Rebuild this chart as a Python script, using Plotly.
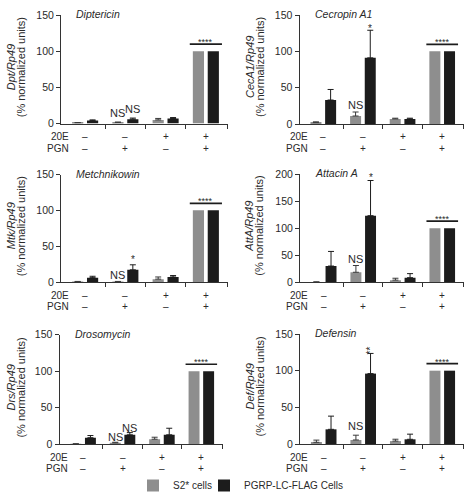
import plotly.graph_objects as go

W, H = 472, 493

# ---------------- data ----------------
genes = ["Diptericin", "Cecropin A1", "Metchnikowin", "Attacin A", "Drosomycin", "Defensin"]
ratio_labels = ["Dpt/Rp49", "CecA1/Rp49", "Mtk/Rp49", "AttA/Rp49", "Drs/Rp49", "Def/Rp49"]
series_names = ["S2* cells", "PGRP-LC-FLAG Cells"]
row_20E = ["–", "–", "+", "+"]
row_PGN = ["–", "+", "–", "+"]
conditions = [0, 1, 2, 3]

# means per gene (4 conditions)
s2_means = [
    [1.0, 1.5, 5.0, 100],
    [2.0, 11.0, 7.0, 100],
    [0.5, 0.5, 4.0, 100],
    [0.5, 18.5, 4.0, 100],
    [0.5, 2.0, 7.0, 100],
    [2.3, 5.5, 4.0, 100],
]
lc_means = [
    [4.0, 6.0, 7.0, 100],
    [33.0, 91.0, 7.0, 100],
    [6.0, 17.0, 7.0, 100],
    [30.0, 123.0, 8.5, 100],
    [9.0, 13.0, 13.0, 100],
    [20.0, 96.0, 6.4, 100],
]
# upper error (first three conditions; last condition is the normalisation reference)
s2_errs = [
    [0.3, 0.5, 2.0],
    [1.0, 5.5, 1.0],
    [0.3, 0.3, 3.0],
    [0.3, 12.5, 3.5],
    [0.3, 0.8, 2.7],
    [3.0, 6.5, 2.5],
]
lc_errs = [
    [1.0, 1.5, 1.2],
    [14.5, 38.0, 1.0],
    [2.0, 7.0, 2.0],
    [27.0, 65.0, 7.5],
    [3.0, 3.0, 9.0],
    [18.0, 27.5, 7.0],
]
y_max = [150, 150, 150, 200, 150, 150]
# significance labels: (condition, series index, y value, text)
sig_labels = [
    [(1, 0, 14, "NS"), (1, 1, 20, "NS")],
    [(1, 0, 26, "NS"), (1, 1, 135, "*")],
    [(1, 0, 9.5, "NS"), (1, 1, 36, "*")],
    [(1, 0, 43, "NS"), (1, 1, 200, "*")],
    [(1, 0, 10, "NS"), (1, 1, 23, "NS")],
    [(1, 0, 24, "NS"), (1, 1, 127, "**")],
]
bracket_text = "****"

# ---------------- styling / layout ----------------
FONT = "Liberation Sans, Arial, sans-serif"
TXT = "#2a2a2a"
GRAY = "#8e8e8e"
BLACK = "#1c1c1c"

# panel plot areas in pixels: (left, right, top, bottom)
panel_px = [
    (61, 228, 15, 123.5),
    (299.5, 464, 15, 124),
    (61, 228, 174.5, 282),
    (300, 464, 174, 282.3),
    (59.5, 223, 334.8, 444.3),
    (300, 464, 334, 444),
]
XR = [-0.6, 3.55]
BARGAP, GROUPGAP = 0.26, 0.25
OFF = (1 - BARGAP) / 4
legend_left_px = [133, 204]
legend_top_px = 471


def px2x(p):
    return p / W


def px2y(p):
    return 1 - p / H


fig = go.Figure()
annotations = []
shapes = []

for i in range(6):
    ax = "" if i == 0 else str(i + 1)
    l, r, t, b = panel_px[i]
    ymax = y_max[i]
    unit = ymax / (b - t)  # data units per pixel

    for s, (means, errs, col, ecol) in enumerate([
        (s2_means[i], s2_errs[i], GRAY, "#3a3a3a"),
        (lc_means[i], lc_errs[i], BLACK, BLACK),
    ]):
        fig.add_trace(go.Bar(
            x=conditions, y=means, name=series_names[s],
            marker=dict(color=col, line=dict(width=0)),
            error_y=dict(type="data", symmetric=False, array=errs,
                         arrayminus=[0] * len(errs), color=ecol,
                         thickness=1, width=3),
            offsetgroup=str(s), showlegend=(i == 0),
            legend=("legend" if s == 0 else "legend2"),
            xaxis="x" + ax, yaxis="y" + ax,
        ))

    fig.layout["xaxis" + ax] = dict(
        domain=[px2x(l), px2x(r)], range=XR, anchor="y" + ax,
        showgrid=False, zeroline=False, showline=True, linecolor="#333",
        linewidth=1, ticks="outside", ticklen=4, tickcolor="#333",
        tickvals=[0.5, 1.5, 2.5, XR[1] - 0.001], showticklabels=False,
        fixedrange=True,
    )
    fig.layout["yaxis" + ax] = dict(
        domain=[px2y(b), px2y(t)], range=[0, ymax], anchor="x" + ax,
        showgrid=False, zeroline=False, showline=True, linecolor="#333",
        linewidth=1, ticks="outside", ticklen=4, tickcolor="#333",
        tickvals=list(range(0, ymax + 1, 50)),
        tickfont=dict(family=FONT, size=10.5, color=TXT), fixedrange=True,
    )

    # gene name
    annotations.append(dict(
        text="<i>%s</i>" % genes[i], xref="paper", yref="paper",
        x=px2x(l + 13), y=px2y(t - 1), xanchor="left", yanchor="middle",
        showarrow=False, font=dict(family=FONT, size=10.5, color=TXT)))

    # y-axis titles (two lines)
    yc = px2y((t + b) / 2 - 2)
    left_col = l < 150
    x1 = 11 if left_col else 249.5
    annotations.append(dict(
        text="<i>%s</i>" % ratio_labels[i], xref="paper", yref="paper",
        x=px2x(x1), y=yc, xanchor="center", yanchor="middle", textangle=-90,
        showarrow=False, font=dict(family=FONT, size=11, color=TXT)))
    annotations.append(dict(
        text="(% normalized units)", xref="paper", yref="paper",
        x=px2x(x1 + 10), y=yc, xanchor="center", yanchor="middle", textangle=-90,
        showarrow=False, font=dict(family=FONT, size=11, color=TXT)))

    # condition rows
    for rowlab, vals, dy in [("20E", row_20E, 13), ("PGN", row_PGN, 24.5)]:
        annotations.append(dict(
            text=rowlab, xref="paper", yref="paper",
            x=px2x(l + 10), y=px2y(b + dy), xanchor="right", yanchor="middle",
            showarrow=False, font=dict(family=FONT, size=10, color=TXT)))
        for c, v in zip(conditions, vals):
            annotations.append(dict(
                text=v, xref="x" + ax, yref="paper",
                x=c, y=px2y(b + dy), xanchor="center", yanchor="middle",
                showarrow=False, font=dict(family=FONT, size=10, color=TXT)))

    # significance labels
    for c, s, yv, txt in sig_labels[i]:
        xo = c + (-OFF if s == 0 else OFF)
        star = txt.startswith("*")
        annotations.append(dict(
            text=txt, xref="x" + ax, yref="y" + ax, x=xo, y=yv,
            xanchor="center", yanchor="middle", showarrow=False,
            textangle=(-90 if txt == "**" else 0),
            yshift=(-3 if (star and txt != "**") else 0),
            font=dict(family=FONT, size=(10 if star else 11), color=TXT)))

    # bracket over last condition
    ly = 100 + 7 * unit
    shapes.append(dict(type="line", xref="x" + ax, yref="y" + ax,
                       x0=3 - 0.4, x1=3 + 0.4, y0=ly, y1=ly,
                       line=dict(color=BLACK, width=1.6)))
    annotations.append(dict(
        text=bracket_text, xref="x" + ax, yref="y" + ax, x=3, y=ly + 5 * unit,
        xanchor="center", yanchor="middle", yshift=-3, showarrow=False,
        font=dict(family=FONT, size=9, color=TXT)))

legend_common = dict(orientation="h", xanchor="left", yanchor="top",
                     font=dict(family=FONT, size=10, color=TXT),
                     bgcolor="rgba(0,0,0,0)", itemwidth=30)

fig.update_layout(
    width=W, height=H,
    margin=dict(l=0, r=0, t=0, b=0, autoexpand=False),
    paper_bgcolor="white", plot_bgcolor="white",
    barmode="group", bargap=BARGAP, bargroupgap=GROUPGAP,
    annotations=annotations, shapes=shapes,
    showlegend=True,
    legend=dict(x=px2x(legend_left_px[0]), y=px2y(legend_top_px), **legend_common),
    legend2=dict(x=px2x(legend_left_px[1]), y=px2y(legend_top_px), **legend_common),
    font=dict(family=FONT, color=TXT),
)

fig.write_html("out.html")
